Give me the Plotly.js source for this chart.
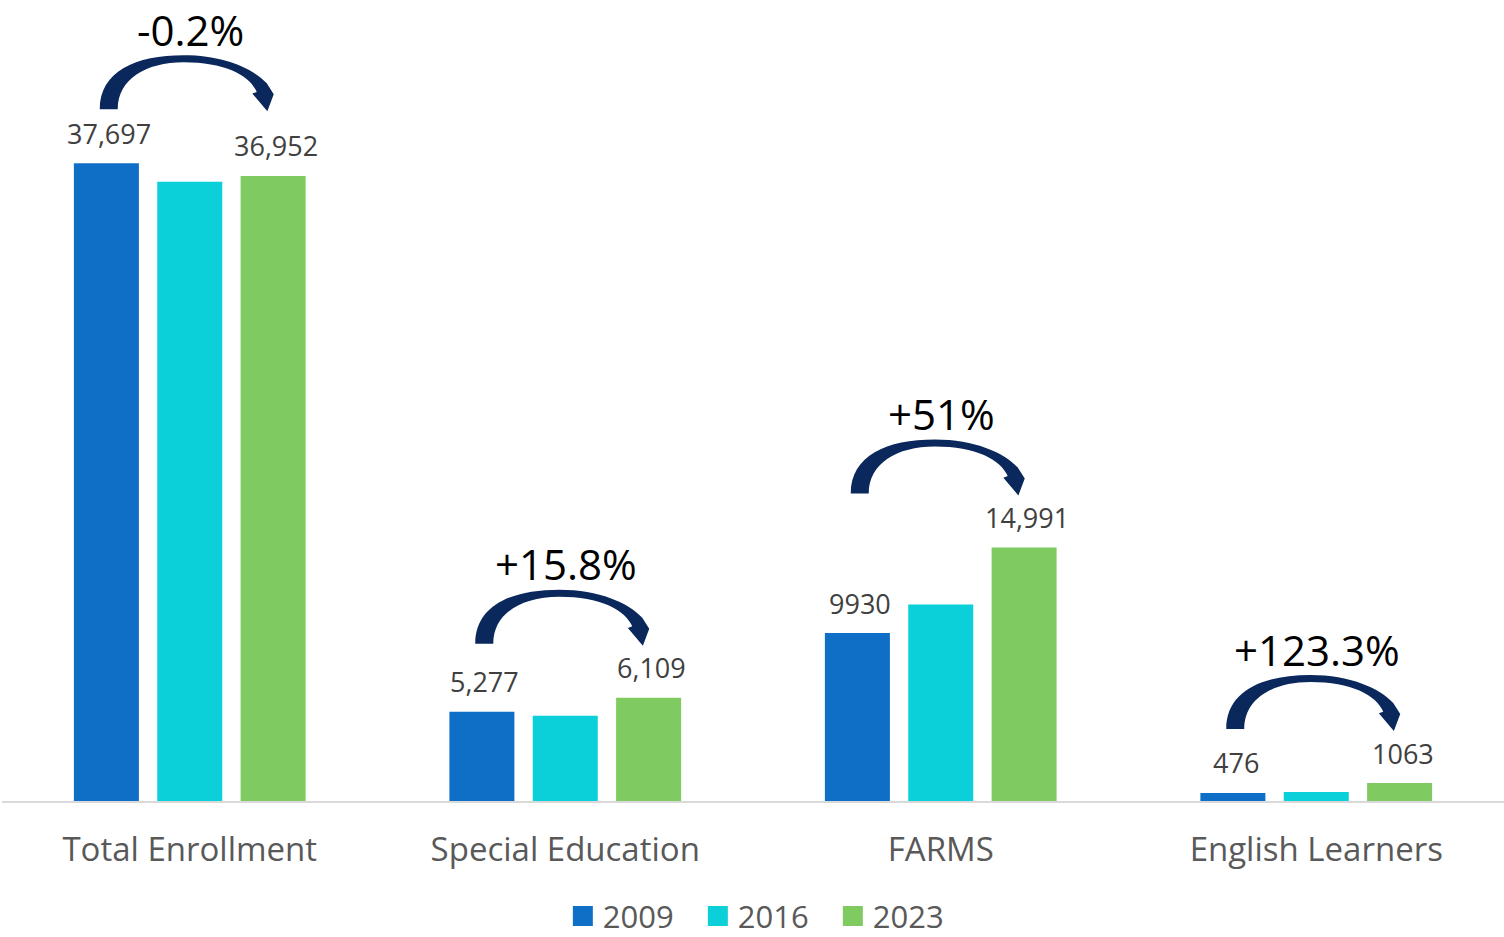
<!DOCTYPE html>
<html><head><meta charset="utf-8">
<script src="https://cdn.plot.ly/plotly-3.0.1.min.js"></script>
<style>html,body{margin:0;padding:0;background:#fff}#chart{width:1504px;height:937px}</style>
</head><body><div id="chart"></div>
<script>
const categories = ['Total Enrollment', 'Special Education', 'FARMS', 'English Learners'];
const seriesNames = ['2009', '2016', '2023'];
const values2009 = [37697, 5277, 9930, 476];
const values2016 = [36600, 5040, 11620, 530];
const values2023 = [36952, 6109, 14991, 1063];
const labels2009 = ['37,697', '5,277', '9930', '476'];
const labels2023 = ['36,952', '6,109', '14,991', '1063'];
const changeLabels = ['-0.2%', '+15.8%', '+51%', '+123.3%'];
const colors = ['#0F6FC6', '#0BD0D9', '#7FCB62'];
const arrowColor = '#0A285C';

const FONT = 'Open Sans, sans-serif';
const bargap = 0.334, bargroupgap = 0.22;
const slot = (1 - bargap) / 3;
const allSeries = [values2009, values2016, values2023];

const traces = allSeries.map((vals, k) => ({
  type: 'bar', x: categories, y: vals, name: seriesNames[k],
  marker: {color: colors[k]}, showlegend: false, hoverinfo: 'x+y+name'
}));
// legend entries (square swatches)
seriesNames.forEach((n, k) => traces.push({
  type: 'scatter', mode: 'markers', x: [null], y: [null], name: n,
  marker: {symbol: 'square', size: 16, color: colors[k], line: {color: colors[k], width: 4}},
  showlegend: true, hoverinfo: 'skip'
}));

const annotations = [];
const shapes = [];
categories.forEach((c, i) => {
  annotations.push({x: i - slot, y: values2009[i], xref: 'x', yref: 'y', text: labels2009[i],
    showarrow: false, yanchor: 'middle', xanchor: 'center', yshift: 30, xshift: 3,
    font: {family: FONT, size: 27, color: '#404040'}});
  annotations.push({x: i + slot, y: values2023[i], xref: 'x', yref: 'y', text: labels2023[i],
    showarrow: false, yanchor: 'middle', xanchor: 'center', yshift: 30, xshift: 3,
    font: {family: FONT, size: 27, color: '#404040'}});
  const base = Math.max(values2009[i], values2016[i], values2023[i]);
  annotations.push({x: i, y: base, xref: 'x', yref: 'y', text: changeLabels[i],
    showarrow: false, yanchor: 'middle', xanchor: 'center', yshift: 134, xshift: 1,
    font: {family: FONT, size: 42, color: '#000000'}});
  shapes.push({type: 'path', xref: 'x', yref: 'y', xsizemode: 'pixel', ysizemode: 'pixel',
    xanchor: i, yanchor: base, layer: 'above',
    path: 'M -90 54 C -90 92 -54 108 -6 108 C 34 108 63 95 77 80 L 84 69 L 77.6 52 L 62.6 69.7 L 67 71.3 C 60 88 35 101 -6 101 C -44 101 -72 84 -72 54 Z',
    fillcolor: arrowColor, line: {width: 0}});
});

const layout = {
  width: 1504, height: 937,
  margin: {l: 2, r: 0, t: 0, b: 136, autoexpand: false},
  paper_bgcolor: '#ffffff', plot_bgcolor: '#ffffff',
  barmode: 'group', bargap: bargap, bargroupgap: bargroupgap,
  font: {family: FONT, color: '#595959'},
  xaxis: {type: 'category', showline: true, linecolor: '#D9D9D9', linewidth: 2,
    ticks: '', showgrid: false, zeroline: false, ticklabelstandoff: 18, automargin: false,
    tickfont: {family: FONT, size: 33, color: '#595959'}},
  yaxis: {range: [0, 47351], visible: false, showgrid: false, zeroline: false},
  showlegend: true,
  legend: {orientation: 'h', x: 0.3734, xanchor: 'left', y: -0.1439, yanchor: 'middle',
    entrywidth: 90, entrywidthmode: 'pixels',
    font: {family: FONT, size: 31, color: '#595959'}, bgcolor: 'rgba(0,0,0,0)'},
  annotations: annotations,
  shapes: shapes
};

Plotly.newPlot('chart', traces, layout, {displayModeBar: false, staticPlot: true});
</script>
</body></html>
